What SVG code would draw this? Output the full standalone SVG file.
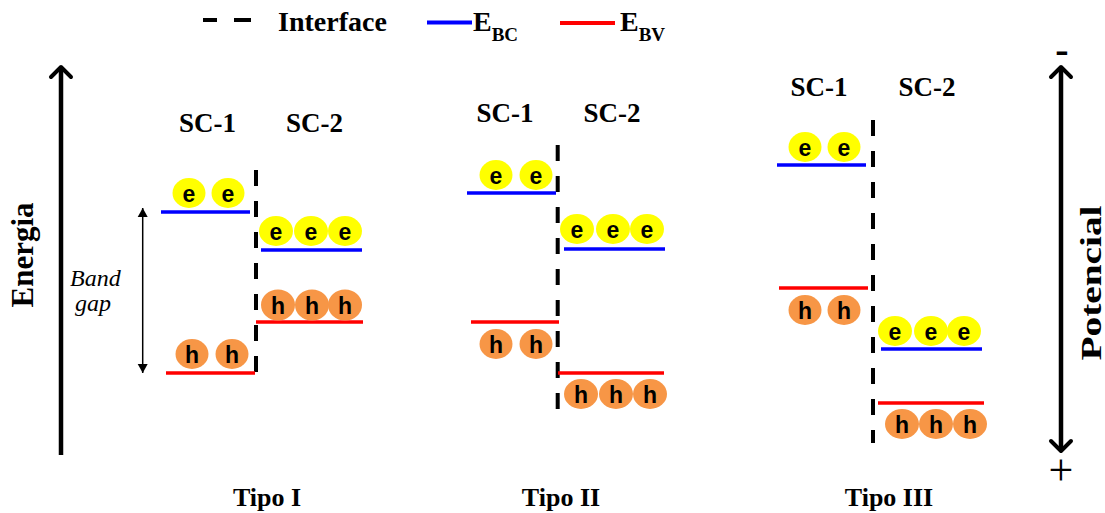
<svg xmlns="http://www.w3.org/2000/svg" width="1105" height="513" viewBox="0 0 1105 513">
<defs>
<style>
.bc{stroke:#0000FF;stroke-width:3.5;fill:none}
.bv{stroke:#FF0000;stroke-width:3.5;fill:none}
.ifc{stroke:#000;stroke-width:4;stroke-dasharray:16 15;fill:none}
.e{fill:#FFFF00}
.h{fill:#F79646}
.q{font-family:"Liberation Sans",Arial,sans-serif;font-weight:bold;font-size:23px;fill:#000;text-anchor:middle}
.t{font-family:"Liberation Serif","Times New Roman",serif;font-weight:bold;fill:#000}
.sc{font-size:27px;text-anchor:middle}
.tipo{font-size:26px;text-anchor:middle}
.axis{stroke:#000;stroke-width:4.5;fill:none}
</style>
<marker id="chev" markerUnits="userSpaceOnUse" markerWidth="30" markerHeight="30" viewBox="-15 -15 30 30" refX="0" refY="0" orient="auto-start-reverse" overflow="visible">
<path d="M-10,-10 L0,0 L-10,10" fill="none" stroke="#000" stroke-width="4" stroke-linejoin="round" stroke-linecap="round"/>
</marker>
<marker id="tri" markerUnits="userSpaceOnUse" markerWidth="12" markerHeight="12" viewBox="-10 -6 12 12" refX="0" refY="0" orient="auto-start-reverse" overflow="visible">
<path d="M-9,-5 L0,0 L-9,5 Z" fill="#000"/>
</marker>
</defs>
<rect width="1105" height="513" fill="#fff"/>

<g id="legend">
<line x1="203" y1="20" x2="217" y2="20" stroke="#000" stroke-width="4"/>
<line x1="234" y1="20" x2="251" y2="20" stroke="#000" stroke-width="4"/>
<text class="t" x="278" y="31" font-size="28">Interface</text>
<line x1="427" y1="22.5" x2="472" y2="22.5" stroke="#0000FF" stroke-width="4"/>
<text class="t" x="473" y="31" font-size="28">E<tspan font-size="19" dy="10">BC</tspan></text>
<line x1="560" y1="23" x2="615" y2="23" stroke="#FF0000" stroke-width="4"/>
<text class="t" x="620" y="31" font-size="28">E<tspan font-size="19" dy="10">BV</tspan></text>
</g>

<g id="axis-energia">
<text class="t" font-size="31" transform="translate(33,255) rotate(-90)" text-anchor="middle">Energia</text>
</g>
<g id="axis-potencial">
<text class="t" font-size="30" transform="translate(1101,283) rotate(-90)" text-anchor="middle" textLength="155" lengthAdjust="spacingAndGlyphs">Potencial</text>
<text class="t" font-size="40" x="1062" y="63" text-anchor="middle">-</text>
<text font-family="Liberation Serif,serif" font-size="44" x="1061" y="485" text-anchor="middle" fill="#000">+</text>
</g>

<g id="connectors">
<line class="axis" x1="61" y1="455" x2="61" y2="67" marker-end="url(#chev)"/>
<line class="axis" x1="1061" y1="67" x2="1061" y2="451" marker-start="url(#chev)" marker-end="url(#chev)"/>
<line x1="142.7" y1="208" x2="142.7" y2="373" stroke="#000" stroke-width="1.5" marker-start="url(#tri)" marker-end="url(#tri)"/>
<line class="ifc" x1="256" y1="170" x2="256" y2="378"/>
<line class="ifc" x1="557.7" y1="145" x2="557.7" y2="410"/>
<line class="ifc" x1="873" y1="120" x2="873" y2="443"/>
</g>

<g id="bandgap-label">
<text font-family="Liberation Serif,serif" font-style="italic" font-size="24" x="70" y="286" fill="#000">Band</text>
<text font-family="Liberation Serif,serif" font-style="italic" font-size="24" x="75" y="311" fill="#000">gap</text>
</g>

<!-- Tipo I -->
<g id="tipo1">
<text class="t sc" x="207.5" y="132">SC-1</text>
<text class="t sc" x="314.5" y="132">SC-2</text>
<text class="t tipo" x="267" y="506">Tipo I</text>
</g>
<g id="t1-sc1-bc">
<line class="bc" x1="161" y1="212" x2="250" y2="212"/>
<ellipse class="e" cx="189" cy="193" rx="16.5" ry="15"/><ellipse class="e" cx="228" cy="193" rx="16.5" ry="15"/>
<text class="q" x="189" y="202">e</text><text class="q" x="228" y="202">e</text>
</g>
<g id="t1-sc2-bc">
<line class="bc" x1="261" y1="250" x2="362" y2="250"/>
<ellipse class="e" cx="276" cy="231" rx="17" ry="15"/><ellipse class="e" cx="311" cy="231" rx="17" ry="15"/><ellipse class="e" cx="345" cy="231" rx="17" ry="15"/>
<text class="q" x="276" y="240">e</text><text class="q" x="311" y="240">e</text><text class="q" x="345" y="240">e</text>
</g>
<g id="t1-sc2-bv">
<line class="bv" x1="256" y1="322" x2="363" y2="322"/>
<ellipse class="h" cx="278" cy="305" rx="17" ry="15.5"/><ellipse class="h" cx="312" cy="305" rx="17" ry="15.5"/><ellipse class="h" cx="345" cy="305" rx="17" ry="15.5"/>
<text class="q" x="278" y="314">h</text><text class="q" x="312" y="314">h</text><text class="q" x="345" y="314">h</text>
</g>
<g id="t1-sc1-bv">
<line class="bv" x1="166" y1="373" x2="255" y2="373"/>
<ellipse class="h" cx="192" cy="354" rx="16.5" ry="15"/><ellipse class="h" cx="232" cy="354" rx="16.5" ry="15"/>
<text class="q" x="192" y="363">h</text><text class="q" x="232" y="363">h</text>
</g>

<!-- Tipo II -->
<g id="tipo2">
<text class="t sc" x="505" y="122">SC-1</text>
<text class="t sc" x="612" y="122">SC-2</text>
<text class="t tipo" x="561" y="506">Tipo II</text>
</g>
<g id="t2-sc1-bc">
<line class="bc" x1="467" y1="193" x2="556" y2="193"/>
<ellipse class="e" cx="496" cy="175" rx="16.5" ry="15"/><ellipse class="e" cx="536" cy="175" rx="16.5" ry="15"/>
<text class="q" x="496" y="184">e</text><text class="q" x="536" y="184">e</text>
</g>
<g id="t2-sc2-bc">
<line class="bc" x1="564" y1="249" x2="665" y2="249"/>
<ellipse class="e" cx="577" cy="229" rx="17" ry="15"/><ellipse class="e" cx="613" cy="229" rx="17" ry="15"/><ellipse class="e" cx="647" cy="229" rx="17" ry="15"/>
<text class="q" x="577" y="238">e</text><text class="q" x="613" y="238">e</text><text class="q" x="647" y="238">e</text>
</g>
<g id="t2-sc1-bv">
<line class="bv" x1="471" y1="322" x2="559" y2="322"/>
<ellipse class="h" cx="496" cy="344" rx="16.5" ry="15"/><ellipse class="h" cx="536" cy="344" rx="16.5" ry="15"/>
<text class="q" x="496" y="353">h</text><text class="q" x="536" y="353">h</text>
</g>
<g id="t2-sc2-bv">
<line class="bv" x1="558" y1="373" x2="664" y2="373"/>
<ellipse class="h" cx="581" cy="394" rx="17" ry="15"/><ellipse class="h" cx="616" cy="394" rx="17" ry="15"/><ellipse class="h" cx="650" cy="394" rx="17" ry="15"/>
<text class="q" x="581" y="403">h</text><text class="q" x="616" y="403">h</text><text class="q" x="650" y="403">h</text>
</g>

<!-- Tipo III -->
<g id="tipo3">
<text class="t sc" x="819" y="96">SC-1</text>
<text class="t sc" x="927" y="96">SC-2</text>
<text class="t tipo" x="889" y="506">Tipo III</text>
</g>
<g id="t3-sc1-bc">
<line class="bc" x1="777" y1="165" x2="866" y2="165"/>
<ellipse class="e" cx="805" cy="147" rx="16.5" ry="15"/><ellipse class="e" cx="844" cy="147" rx="16.5" ry="15"/>
<text class="q" x="805" y="156">e</text><text class="q" x="844" y="156">e</text>
</g>
<g id="t3-sc1-bv">
<line class="bv" x1="779" y1="288" x2="868" y2="288"/>
<ellipse class="h" cx="805" cy="310" rx="16.5" ry="15"/><ellipse class="h" cx="844" cy="310" rx="16.5" ry="15"/>
<text class="q" x="805" y="319">h</text><text class="q" x="844" y="319">h</text>
</g>
<g id="t3-sc2-bc">
<line class="bc" x1="881" y1="349" x2="982" y2="349"/>
<ellipse class="e" cx="895" cy="331" rx="17" ry="15"/><ellipse class="e" cx="931" cy="331" rx="17" ry="15"/><ellipse class="e" cx="964" cy="331" rx="17" ry="15"/>
<text class="q" x="895" y="340">e</text><text class="q" x="931" y="340">e</text><text class="q" x="964" y="340">e</text>
</g>
<g id="t3-sc2-bv">
<line class="bv" x1="878" y1="403" x2="984" y2="403"/>
<ellipse class="h" cx="902" cy="424" rx="17" ry="15"/><ellipse class="h" cx="936" cy="424" rx="17" ry="15"/><ellipse class="h" cx="970" cy="424" rx="17" ry="15"/>
<text class="q" x="902" y="433">h</text><text class="q" x="936" y="433">h</text><text class="q" x="970" y="433">h</text>
</g>
</svg>
